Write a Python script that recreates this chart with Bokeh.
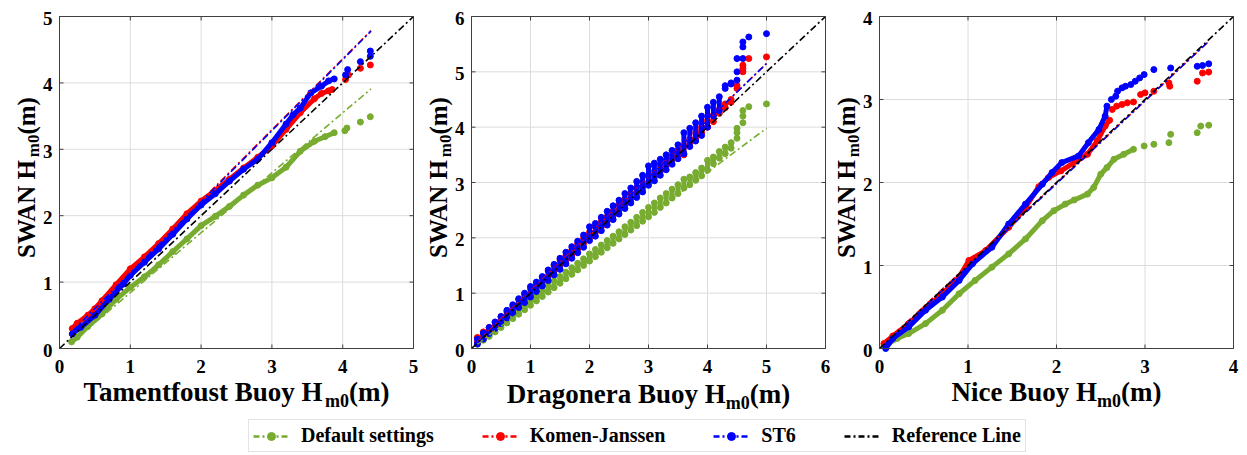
from math import pi
from bokeh.plotting import figure
from bokeh.layouts import row, column
from bokeh.models import Label, Legend, LegendItem
from bokeh.core.properties import value
from bokeh.embed import file_html
from bokeh.resources import INLINE

GREEN = "#77ac30"
RED = "#ff0000"
BLUE = "#0000ff"
FONT = "Liberation Serif"
DASHDOT = "7 3 2 3"
SHIFT = 0.33  # empirical baseline correction (em) for Bokeh's alphabetic text placement

# ---------------- Panel 1: Tamentfoust ----------------
t_ticks = [0, 1, 2, 3, 4, 5]
t_def_x = [0.17, 0.25, 0.40, 0.60, 0.80, 1.00, 1.20, 1.40, 1.60, 1.80, 2.00, 2.20, 2.40, 2.60, 2.80, 3.00, 3.20, 3.40, 3.60, 3.75, 3.88]
t_def_y = [0.10, 0.17, 0.33, 0.52, 0.74, 0.92, 1.08, 1.26, 1.46, 1.65, 1.85, 1.99, 2.14, 2.31, 2.46, 2.57, 2.73, 2.97, 3.12, 3.19, 3.25]
t_def_tail_x = [4.03, 4.06, 4.25, 4.39]
t_def_tail_y = [3.28, 3.32, 3.41, 3.49]
t_kj_x = [0.18, 0.25, 0.40, 0.50, 0.60, 0.80, 1.00, 1.20, 1.40, 1.60, 1.80, 2.00, 2.20, 2.40, 2.60, 2.80, 3.00, 3.20, 3.40, 3.60, 3.70, 3.80, 3.85]
t_kj_y = [0.30, 0.38, 0.50, 0.60, 0.72, 0.96, 1.20, 1.38, 1.58, 1.80, 2.03, 2.22, 2.38, 2.55, 2.72, 2.88, 3.05, 3.30, 3.55, 3.76, 3.84, 3.88, 3.90]
t_kj_tail_x = [4.04, 4.08, 4.25, 4.39]
t_kj_tail_y = [4.05, 4.12, 4.22, 4.27]
t_st6_x = [0.18, 0.30, 0.50, 0.70, 0.90, 1.00, 1.20, 1.40, 1.60, 1.80, 2.00, 2.20, 2.40, 2.60, 2.80, 3.00, 3.20, 3.30, 3.40, 3.55, 3.70, 3.80, 3.88]
t_st6_y = [0.22, 0.32, 0.50, 0.74, 0.97, 1.10, 1.30, 1.50, 1.72, 1.95, 2.16, 2.33, 2.52, 2.70, 2.85, 3.10, 3.38, 3.52, 3.62, 3.85, 3.95, 4.03, 4.06]
t_st6_tail_x = [4.04, 4.07, 4.25, 4.39, 4.39]
t_st6_tail_y = [4.12, 4.20, 4.32, 4.40, 4.48]
t_fit_x = [0.18, 4.40]
t_fit_def = [0.10, 3.91]
t_fit_kj = [0.28, 4.79]
t_fit_st6 = [0.26, 4.78]

# ---------------- Panel 2: Dragonera ----------------
d_ticks = [0, 1, 2, 3, 4, 5, 6]
d_x = [0.1, 0.2, 0.3, 0.4, 0.5, 0.6, 0.7, 0.8, 0.9, 1.0, 1.1, 1.2, 1.3, 1.4, 1.5, 1.6, 1.7, 1.8, 1.9, 2.0, 2.1, 2.2,
       2.3, 2.4, 2.5, 2.6, 2.7, 2.8, 2.9, 3.0, 3.1, 3.2, 3.3, 3.4, 3.5, 3.6, 3.7, 3.8, 3.9, 4.0, 4.1, 4.2, 4.3, 4.4]
d_def_lo = [0.08, 0.15, 0.22, 0.30, 0.38, 0.46, 0.54, 0.62, 0.70, 0.78, 0.86, 0.94, 1.02, 1.10, 1.18, 1.26, 1.34, 1.42, 1.50, 1.58, 1.66, 1.74,
            1.82, 1.90, 1.98, 2.06, 2.14, 2.22, 2.30, 2.38, 2.46, 2.55, 2.63, 2.72, 2.80, 2.90, 2.96, 3.04, 3.12, 3.22, 3.34, 3.44, 3.52, 3.62]
d_def_hi = [0.18, 0.26, 0.33, 0.41, 0.49, 0.57, 0.65, 0.73, 0.81, 0.90, 0.98, 1.06, 1.14, 1.22, 1.30, 1.38, 1.46, 1.54, 1.62, 1.71, 1.79, 1.87,
            1.95, 2.03, 2.11, 2.20, 2.28, 2.37, 2.46, 2.55, 2.63, 2.72, 2.80, 2.88, 2.96, 3.06, 3.10, 3.18, 3.26, 3.40, 3.46, 3.56, 3.64, 3.72]
d_def_tail_x = [4.5, 4.5, 4.5, 4.6, 4.6, 4.6, 4.7, 5.0]
d_def_tail_y = [3.80, 3.90, 3.98, 4.08, 4.20, 4.30, 4.37, 4.42]
d_kj_lo = [0.12, 0.20, 0.30, 0.40, 0.50, 0.60, 0.70, 0.80, 0.90, 0.98, 1.10, 1.20, 1.30, 1.40, 1.50, 1.60, 1.70, 1.80, 1.90, 2.00, 2.10, 2.20,
           2.30, 2.40, 2.50, 2.60, 2.70, 2.80, 2.90, 3.00, 3.10, 3.20, 3.30, 3.40, 3.50, 3.50, 3.70, 3.80, 3.90, 4.00, 4.10, 4.25, 4.35, 4.45]
d_kj_hi = [0.20, 0.30, 0.38, 0.47, 0.57, 0.66, 0.76, 0.88, 0.97, 1.08, 1.17, 1.28, 1.40, 1.50, 1.60, 1.68, 1.78, 1.90, 2.00, 2.10, 2.20, 2.30,
           2.38, 2.48, 2.60, 2.70, 2.80, 2.90, 3.00, 3.10, 3.20, 3.30, 3.40, 3.48, 3.58, 3.66, 3.78, 3.90, 4.00, 4.12, 4.22, 4.32, 4.42, 4.50]
d_kj_tail_x = [4.5, 4.5, 4.6, 4.6, 4.6, 4.7, 5.0]
d_kj_tail_y = [4.70, 4.75, 5.00, 5.06, 5.12, 5.24, 5.27]
d_st6_lo = [0.08, 0.17, 0.27, 0.36, 0.45, 0.55, 0.64, 0.74, 0.83, 0.93, 1.03, 1.13, 1.23, 1.33, 1.43, 1.53, 1.63, 1.73, 1.83, 1.95, 2.03, 2.13,
            2.23, 2.33, 2.43, 2.53, 2.63, 2.73, 2.83, 2.95, 3.03, 3.13, 3.23, 3.33, 3.43, 3.52, 3.65, 3.75, 3.85, 4.00, 4.20, 4.30, 4.70, 4.78]
d_st6_hi = [0.17, 0.28, 0.38, 0.48, 0.58, 0.69, 0.79, 0.90, 1.00, 1.12, 1.20, 1.30, 1.42, 1.52, 1.63, 1.74, 1.84, 1.94, 2.05, 2.20, 2.26, 2.37,
            2.48, 2.58, 2.68, 2.80, 2.90, 3.02, 3.13, 3.30, 3.35, 3.42, 3.50, 3.58, 3.68, 3.90, 3.98, 4.08, 4.20, 4.36, 4.45, 4.55, 4.75, 4.80]
d_st6_tail_x = [4.5, 4.5, 4.5, 4.6, 4.6, 4.6, 4.7, 5.0]
d_st6_tail_y = [4.85, 5.00, 5.24, 5.24, 5.45, 5.54, 5.63, 5.69]
d_fit_x = [0.1, 5.0]
d_fit_def = [0.08, 3.98]
d_fit_kj = [0.12, 5.15]
d_fit_st6 = [0.10, 5.15]

# ---------------- Panel 3: Nice ----------------
n_ticks = [0, 1, 2, 3, 4]
n_def_x = [0.05, 0.10, 0.20, 0.33, 0.52, 0.71, 0.90, 1.08, 1.27, 1.46, 1.65, 1.84, 1.97, 2.10, 2.20, 2.35, 2.42, 2.50, 2.57, 2.65, 2.76, 2.87]
n_def_y = [0.03, 0.06, 0.12, 0.18, 0.30, 0.46, 0.66, 0.82, 0.98, 1.14, 1.32, 1.54, 1.66, 1.74, 1.79, 1.86, 1.94, 2.10, 2.18, 2.28, 2.34, 2.40]
n_def_tail_x = [2.99, 3.10, 3.27, 3.29, 3.59, 3.63, 3.72]
n_def_tail_y = [2.44, 2.46, 2.48, 2.58, 2.60, 2.68, 2.69]
n_kj_x = [0.05, 0.15, 0.33, 0.52, 0.71, 0.90, 1.01, 1.20, 1.46, 1.65, 1.80, 1.91, 2.05, 2.23, 2.35, 2.46, 2.55, 2.60]
n_kj_y = [0.06, 0.15, 0.30, 0.48, 0.66, 0.86, 1.06, 1.18, 1.46, 1.70, 1.95, 2.06, 2.14, 2.26, 2.34, 2.50, 2.68, 2.75]
n_kj_tail_x = [2.63, 2.68, 2.74, 2.80, 2.87, 2.95, 3.00, 3.10, 3.27, 3.28, 3.59, 3.65, 3.72]
n_kj_tail_y = [2.88, 2.92, 2.94, 2.96, 2.97, 3.06, 3.08, 3.10, 3.20, 3.16, 3.22, 3.32, 3.33]
n_st6_x = [0.07, 0.15, 0.33, 0.52, 0.71, 0.90, 1.05, 1.27, 1.46, 1.65, 1.84, 1.95, 2.06, 2.25, 2.36, 2.48, 2.55, 2.57]
n_st6_y = [0.00, 0.12, 0.26, 0.46, 0.62, 0.82, 1.02, 1.22, 1.50, 1.74, 1.98, 2.12, 2.24, 2.32, 2.48, 2.64, 2.80, 2.92]
n_st6_tail_x = [2.62, 2.67, 2.69, 2.74, 2.78, 2.84, 2.89, 2.94, 2.99, 3.10, 3.29, 3.59, 3.65, 3.72]
n_st6_tail_y = [3.00, 3.04, 3.10, 3.14, 3.16, 3.18, 3.22, 3.26, 3.30, 3.36, 3.38, 3.40, 3.41, 3.43]
n_fit_x = [0.05, 3.72]
n_fit_kj = [0.06, 3.70]
n_fit_st6 = [0.04, 3.70]

legend_labels = ["Default settings", "Komen-Janssen", "ST6", "Reference Line"]
legend_colors = [GREEN, RED, BLUE, "black"]

# Times/Liberation Serif Bold advance widths (per 1000 em), for composing labels with subscripts
CW = {"T": 667, "a": 500, "m": 833, "e": 444, "n": 556, "t": 333, "f": 333, "o": 500, "u": 556, "s": 389,
      " ": 250, "B": 667, "y": 500, "H": 778, "D": 722, "r": 444, "g": 500, "N": 722, "i": 278, "c": 444,
      "S": 556, "W": 1000, "A": 722, "(": 333, ")": 333, "0": 500}


def tw(s, size):
    return sum(CW.get(c, 500) for c in s) * size / 1000.0


FIG_H = 419
FT, FB = 16, 348  # frame top / bottom in page pixels
TICK_FS = 19


class Panel:
    def __init__(self, fig_w, fl, fr, ticks):
        self.ticks = ticks
        top = ticks[-1]
        self.sx = (fr - fl) / float(top)
        self.sy = (FB - FT) / float(top)
        self.fl, self.fr = fl, fr
        self.x0 = -fl / self.sx
        x1 = top + (fig_w - fr) / self.sx
        y0 = -(FIG_H - FB) / self.sy
        self.y1 = top + FT / self.sy
        p = figure(width=fig_w, height=FIG_H, x_range=(self.x0, x1), y_range=(y0, self.y1),
                   x_axis_type=None, y_axis_type=None, min_border=0,
                   output_backend="svg", toolbar_location=None)
        p.outline_line_color = None
        p.background_fill_color = "white"
        p.border_fill_color = "white"
        self.p = p

    def dx(self, px):  # figure pixel -> data x
        return self.x0 + px / self.sx

    def dy(self, py):  # figure pixel -> data y
        return self.y1 - py / self.sy

    def axes(self):
        p, t = self.p, self.ticks
        lo, hi = t[0], t[-1]
        inner = t[1:-1]
        n = len(inner)
        p.segment(x0=inner, y0=[lo] * n, x1=inner, y1=[hi] * n, line_color="#dcdcdc", line_width=1)
        p.segment(x0=[lo] * n, y0=inner, x1=[hi] * n, y1=inner, line_color="#dcdcdc", line_width=1)

    def frame(self):
        p, t = self.p, self.ticks
        lo, hi = t[0], t[-1]
        n = len(t)
        tlx, tly = 4 / self.sx, 4 / self.sy
        p.quad(left=lo, right=hi, bottom=lo, top=hi, fill_color=None, line_color="#404040", line_width=1)
        p.segment(x0=t, y0=[lo] * n, x1=t, y1=[lo + tly] * n, line_color="#404040")
        p.segment(x0=t, y0=[hi] * n, x1=t, y1=[hi - tly] * n, line_color="#404040")
        p.segment(x0=[lo] * n, y0=t, x1=[lo + tlx] * n, y1=t, line_color="#404040")
        p.segment(x0=[hi] * n, y0=t, x1=[hi - tlx] * n, y1=t, line_color="#404040")
        labels = [str(v) for v in t]
        corr = SHIFT * TICK_FS
        p.text(x=t, y=[lo - (24 - corr) / self.sy] * n, text=labels, text_align="center",
               text_baseline="alphabetic", text_font=value(FONT), text_font_style="bold",
               text_font_size=f"{TICK_FS}px", text_color="black")
        p.text(x=[lo - 7 / self.sx] * n, y=[v - (8 - corr) / self.sy for v in t], text=labels, text_align="right",
               text_baseline="alphabetic", text_font=value(FONT), text_font_style="bold",
               text_font_size=f"{TICK_FS}px", text_color="black")

    def _lab(self, x, y, text, size, angle=0.0):
        self.p.add_layout(Label(x=x, y=y, text=text, angle=angle, text_font=FONT, text_font_style="bold",
                                text_font_size=f"{size}px", text_color="black",
                                text_align="left", text_baseline="alphabetic"))

    def xlabel(self, pre, sub, post, base=400, fs=27, sfs=18):
        w1, w2, w3 = tw(pre, fs), tw(sub, sfs), tw(post, fs)
        start = (self.fl + self.fr) / 2.0 - (w1 + w2 + w3) / 2.0
        self._lab(self.dx(start), self.dy(base - SHIFT * fs), pre, fs)
        self._lab(self.dx(start + w1), self.dy(base + 6 - SHIFT * sfs), sub, sfs)
        self._lab(self.dx(start + w1 + w2), self.dy(base - SHIFT * fs), post, fs)

    def ylabel(self, pre, sub, post, center=177, fs=25, sfs=17):
        w1, w2, w3 = tw(pre, fs), tw(sub, sfs), tw(post, fs)
        bx = self.fl - 25
        start = center + (w1 + w2 + w3) / 2.0  # bottom end (page y grows downward)
        self._lab(self.dx(bx - SHIFT * fs), self.dy(start), pre, fs, pi / 2)
        self._lab(self.dx(bx + 5 - SHIFT * sfs), self.dy(start - w1), sub, sfs, pi / 2)
        self._lab(self.dx(bx - SHIFT * fs), self.dy(start - w1 - w2), post, fs, pi / 2)


def dense(p, x, y, color):
    p.line(x, y, line_color=color, line_width=5, line_join="round", line_cap="round")
    p.scatter(x, y, size=6, color=color)


def dots(p, x, y, color):
    p.scatter(x, y, size=6, color=color)


def stacks(p, x, lo, hi, color):
    p.segment(x0=x, y0=lo, x1=x, y1=hi, line_color=color, line_width=5, line_cap="round")
    p.scatter(x, lo, size=6, color=color)
    p.scatter(x, hi, size=6, color=color)


def fit(p, x, y, color):
    p.line(x, y, line_color=color, line_width=1.6, line_dash=DASHDOT)


def ref(p, ticks):
    p.line([ticks[0], ticks[-1]], [ticks[0], ticks[-1]], line_color="black", line_width=1.6, line_dash=DASHDOT)


# Panel 1 (page x 0..420, frame 59..413)
a = Panel(420, 59, 413, t_ticks)
a.axes()
p1 = a.p
dense(p1, t_def_x, t_def_y, GREEN)
dots(p1, t_def_tail_x, t_def_tail_y, GREEN)
dense(p1, t_kj_x, t_kj_y, RED)
dots(p1, t_kj_tail_x, t_kj_tail_y, RED)
dense(p1, t_st6_x, t_st6_y, BLUE)
dots(p1, t_st6_tail_x, t_st6_tail_y, BLUE)
fit(p1, t_fit_x, t_fit_def, GREEN)
fit(p1, t_fit_x, t_fit_kj, RED)
fit(p1, t_fit_x, t_fit_st6, BLUE)
ref(p1, t_ticks)
a.frame()
a.xlabel("Tamentfoust Buoy H", "m0", "(m)")
a.ylabel("SWAN H", "m0", "(m)")

# Panel 2 (page x 420..830, frame 471..825)
b = Panel(410, 51, 405, d_ticks)
b.axes()
p2 = b.p
stacks(p2, d_x, d_def_lo, d_def_hi, GREEN)
dots(p2, d_def_tail_x, d_def_tail_y, GREEN)
stacks(p2, d_x, d_kj_lo, d_kj_hi, RED)
dots(p2, d_kj_tail_x, d_kj_tail_y, RED)
stacks(p2, d_x, d_st6_lo, d_st6_hi, BLUE)
dots(p2, d_st6_tail_x, d_st6_tail_y, BLUE)
fit(p2, d_fit_x, d_fit_def, GREEN)
fit(p2, d_fit_x, d_fit_kj, RED)
fit(p2, d_fit_x, d_fit_st6, BLUE)
ref(p2, d_ticks)
b.frame()
b.xlabel("Dragonera Buoy H", "m0", "(m)", base=402)
b.ylabel("SWAN H", "m0", "(m)")

# Panel 3 (page x 830..1245, frame 879..1233)
c = Panel(415, 49, 403, n_ticks)
c.axes()
p3 = c.p
dense(p3, n_def_x, n_def_y, GREEN)
dots(p3, n_def_tail_x, n_def_tail_y, GREEN)
dense(p3, n_kj_x, n_kj_y, RED)
dots(p3, n_kj_tail_x, n_kj_tail_y, RED)
dense(p3, n_st6_x, n_st6_y, BLUE)
dots(p3, n_st6_tail_x, n_st6_tail_y, BLUE)
fit(p3, n_fit_x, n_fit_kj, RED)
fit(p3, n_fit_x, n_fit_st6, BLUE)
ref(p3, n_ticks)
c.frame()
c.xlabel("Nice Buoy H", "m0", "(m)")
c.ylabel("SWAN H", "m0", "(m)")

# Legend strip (page y 419..453)
lf = figure(width=1245, height=34, x_range=(0, 1), y_range=(0, 1), output_backend="svg",
            toolbar_location=None, x_axis_type=None, y_axis_type=None, min_border=0)
lf.grid.visible = False
lf.outline_line_color = None
items = []
for lab, col in zip(legend_labels, legend_colors):
    # placeholder glyphs kept outside the visible range: they only supply the legend swatches
    rs = [lf.line(x=[-3, -2], y=[-3, -3], line_color=col, line_width=2.5, line_dash="6 3 2 3")]
    if col != "black":
        rs.append(lf.scatter(x=[-3], y=[-3], size=7, color=col))
    items.append(LegendItem(label=lab, renderers=rs))
leg = Legend(items=items, orientation="horizontal", location=(248, 1),
             label_text_font=FONT, label_text_font_style="bold", label_text_font_size="20px",
             label_text_color="black", glyph_width=36, glyph_height=20, label_standoff=12,
             spacing=48, padding=4, margin=0, border_line_color="#c8c8c8", border_line_width=1,
             background_fill_color="white", background_fill_alpha=1.0)
lf.add_layout(leg)

layout = column(row(p1, p2, p3), lf)
open("out.html", "w").write(file_html(layout, INLINE))
